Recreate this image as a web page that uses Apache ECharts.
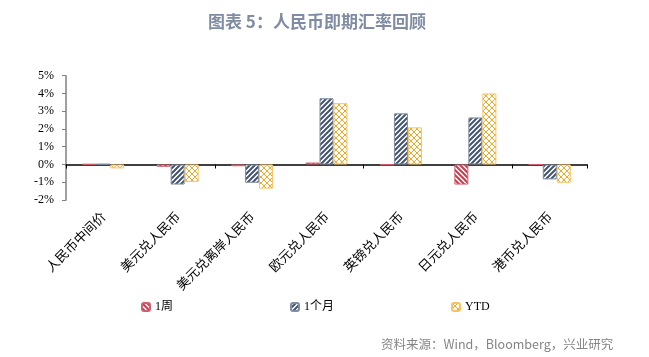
<!DOCTYPE html>
<html><head><meta charset="utf-8">
<script src="https://cdn.jsdelivr.net/npm/echarts@6/dist/echarts.min.js"></script>
<style>html,body{margin:0;padding:0;background:#fff}#c{width:649px;height:357px}</style>
</head><body><div id="c"></div>
<script>
const categories = ['人民币中间价','美元兑人民币','美元兑离岸人民币','欧元兑人民币','英镑兑人民币','日元兑人民币','港币兑人民币'];
const week = [0.02, -0.13, -0.10, 0.11, -0.02, -1.13, 0.00];
const month = [0.03, -1.13, -1.03, 3.73, 2.88, 2.65, -0.84];
const ytd = [-0.22, -0.98, -1.36, 3.45, 2.09, 4.00, -1.03];
const seriesNames = ['1周','1个月','YTD'];

function pattern(kind, color){
  const s = kind === 'cross' ? 6 : 5;
  const c = document.createElement('canvas');
  c.width = s; c.height = s;
  const g = c.getContext('2d');
  g.fillStyle = '#fff'; g.fillRect(0,0,s,s);
  g.strokeStyle = color;
  if (kind === 'cross') {
    g.lineWidth = 1;
    g.beginPath();
    g.moveTo(0,0); g.lineTo(s,s);
    g.moveTo(s,0); g.lineTo(0,s);
    g.stroke();
  } else {
    g.lineWidth = 2;
    g.beginPath();
    if (kind === 'fwd') {
      g.moveTo(-1,s+1); g.lineTo(s+1,-1);
      g.moveTo(-1,1); g.lineTo(1,-1);
      g.moveTo(s-1,s+1); g.lineTo(s+1,s-1);
    } else {
      g.moveTo(-1,-1); g.lineTo(s+1,s+1);
      g.moveTo(s-1,-1); g.lineTo(s+1,1);
      g.moveTo(-1,s-1); g.lineTo(1,s+1);
    }
    g.stroke();
  }
  return {image: c, repeat: 'repeat'};
}

const chart = echarts.init(document.getElementById('c'));
const mk = (name, data, kind, col, border) => ({
  name, type: 'bar', data, barWidth: 14, barGap: '0%',
  xAxisIndex: 0,
  itemStyle: {color: pattern(kind, col), borderColor: border, borderWidth: 1}
});
chart.setOption({
  animation: false,
  title: [
    {text: '图表 5：人民币即期汇率回顾', left: 203, top: 8,
     textStyle: {color: '#7F8CA3', fontSize: 17, fontWeight: 'bold', fontFamily: 'Noto Sans CJK SC'}},
    {text: '资料来源：Wind，Bloomberg，兴业研究', left: 376, top: 333,
     textStyle: {color: '#858585', fontSize: 12.5, fontWeight: 'normal', fontFamily: 'Noto Sans CJK SC'}}
  ],
  legend: {
    data: seriesNames, left: 136, top: 296, itemWidth: 8, itemHeight: 8, itemGap: 117,
    textStyle: {fontSize: 12, color: '#000', fontFamily: 'Liberation Serif, Noto Sans CJK SC'}
  },
  grid: {left: 66, right: 62, top: 75.7, bottom: 157, containLabel: false},
  xAxis: [
    {type: 'category', data: categories, position: 'bottom',
     axisLine: {show: false, onZero: false}, axisTick: {show: false},
     axisLabel: {rotate: 45, interval: 0, margin: 14, fontSize: 13, color: '#000', fontFamily: 'Noto Sans CJK SC'}},
    {type: 'category', data: categories, position: 'bottom',
     axisLine: {show: true, onZero: true, lineStyle: {color: '#000', width: 1.5}},
     axisTick: {show: true, length: 4, lineStyle: {color: '#000'}},
     axisLabel: {show: false}}
  ],
  yAxis: {
    type: 'value', min: -2, max: 5, interval: 1,
    axisLine: {show: true, lineStyle: {color: '#808080', width: 1.5}},
    axisTick: {show: true, length: 4, lineStyle: {color: '#808080'}},
    splitLine: {show: false},
    axisLabel: {formatter: v => v + '%', fontSize: 12, color: '#000', margin: 12, fontFamily: 'Liberation Serif'}
  },
  series: [
    mk('1周', week, 'back', '#C93A4C', '#D0606E'),
    mk('1个月', month, 'fwd', '#44546A', '#7F8CA3'),
    mk('YTD', ytd, 'cross', '#F5A623', '#F7C267')
  ]
});
</script></body></html>
